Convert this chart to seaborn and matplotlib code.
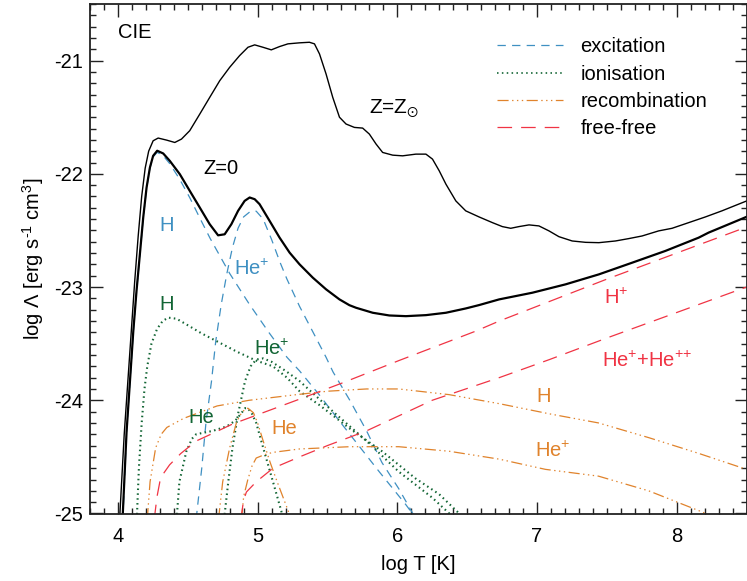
import matplotlib
matplotlib.use("Agg")
import numpy as np
import matplotlib.pyplot as plt
import seaborn as sns
from matplotlib.ticker import FixedLocator, FuncFormatter
from matplotlib.lines import Line2D

plt.rcParams['font.family'] = ['Liberation Sans', 'DejaVu Sans']
plt.rcParams['mathtext.fontset'] = 'custom'
plt.rcParams['mathtext.rm'] = 'Liberation Sans'
plt.rcParams['mathtext.default'] = 'regular'
plt.rcParams['axes.unicode_minus'] = False
plt.rcParams['lines.scale_dashes'] = False

# ---------------- data (log T, log Lambda) ----------------
z0_x = [4.033, 4.062, 4.086, 4.11, 4.133, 4.157, 4.181, 4.205, 4.229, 4.252, 4.281, 4.324, 4.371, 4.443,
        4.514, 4.586, 4.657, 4.717, 4.764, 4.812, 4.86, 4.907, 4.943, 4.979, 5.014, 5.086, 5.157, 5.229,
        5.3, 5.395, 5.49, 5.586, 5.657, 5.705, 5.824, 5.943, 6.062, 6.205, 6.348, 6.49, 6.586, 6.729,
        6.967, 7.205, 7.443, 7.681, 7.919, 8.157, 8.229, 8.5]
z0_y = [-25.05, -24.274, -23.832, -23.389, -23.035, -22.711, -22.386, -22.121, -21.944, -21.841, -21.796,
        -21.82, -21.885, -22.003, -22.15, -22.298, -22.445, -22.543, -22.534, -22.445, -22.327, -22.239,
        -22.209, -22.224, -22.268, -22.416, -22.563, -22.696, -22.799, -22.917, -23.02, -23.109, -23.16,
        -23.183, -23.227, -23.251, -23.257, -23.248, -23.227, -23.189, -23.159, -23.109, -23.05, -22.976,
        -22.888, -22.785, -22.681, -22.564, -22.519, -22.38]

zsun_x = [4.012, 4.045, 4.07, 4.095, 4.12, 4.145, 4.17, 4.195, 4.22, 4.252, 4.288, 4.348, 4.407, 4.455,
          4.514, 4.586, 4.657, 4.729, 4.8, 4.871, 4.931, 4.979, 5.038, 5.098, 5.157, 5.217, 5.3, 5.371,
          5.407, 5.443, 5.49, 5.538, 5.586, 5.633, 5.693, 5.752, 5.8, 5.848, 5.895, 5.967, 6.038, 6.133,
          6.205, 6.252, 6.3, 6.348, 6.419, 6.49, 6.586, 6.681, 6.752, 6.812, 6.871, 6.943, 7.014, 7.086,
          7.157, 7.252, 7.348, 7.443, 7.562, 7.657, 7.752, 7.871, 7.967, 8.086, 8.205, 8.324, 8.443, 8.5]
zsun_y = [-25.05, -24.3, -23.85, -23.4, -22.95, -22.55, -22.2, -21.95, -21.8, -21.708, -21.684, -21.702,
          -21.723, -21.693, -21.619, -21.472, -21.325, -21.177, -21.059, -20.956, -20.882, -20.861,
          -20.882, -20.905, -20.876, -20.852, -20.843, -20.838, -20.852, -20.941, -21.118, -21.325,
          -21.5, -21.56, -21.59, -21.596, -21.649, -21.737, -21.811, -21.835, -21.841, -21.826, -21.826,
          -21.87, -21.973, -22.091, -22.239, -22.327, -22.381, -22.431, -22.466, -22.481, -22.466,
          -22.451, -22.46, -22.504, -22.555, -22.593, -22.605, -22.608, -22.593, -22.572, -22.549,
          -22.504, -22.481, -22.431, -22.381, -22.327, -22.268, -22.24]

exc_h_x = [4.035, 4.062, 4.086, 4.11, 4.133, 4.157, 4.181, 4.205, 4.229, 4.252, 4.281, 4.324, 4.371,
           4.443, 4.514, 4.586, 4.66, 4.8, 4.94, 5.08, 5.21, 5.3, 5.44, 5.59, 5.73, 5.87, 6.06, 6.12]
exc_h_y = [-25.05, -24.28, -23.84, -23.4, -23.04, -22.72, -22.39, -22.13, -21.95, -21.85, -21.81,
           -21.84, -21.91, -22.05, -22.21, -22.39, -22.57, -22.88, -23.15, -23.4, -23.62, -23.74,
           -23.95, -24.19, -24.41, -24.63, -24.92, -25.02]

exc_hep_x = [4.56, 4.60, 4.63, 4.67, 4.70, 4.74, 4.78, 4.82, 4.86, 4.9, 4.95, 4.99, 5.04, 5.1, 5.16,
             5.21, 5.3, 5.41, 5.49, 5.54, 5.66, 5.78, 5.89, 6.01, 6.12]
exc_hep_y = [-25.05, -24.6, -24.2, -23.83, -23.48, -23.15, -22.88, -22.65, -22.48, -22.38, -22.33,
             -22.33, -22.4, -22.58, -22.78, -22.93, -23.17, -23.43, -23.62, -23.75, -24.0, -24.27,
             -24.55, -24.78, -25.02]

ion_h_x = [4.135, 4.15, 4.17, 4.19, 4.21, 4.24, 4.28, 4.32, 4.36, 4.42, 4.49, 4.6, 4.71, 4.85, 4.99,
           5.11, 5.21, 5.3, 5.44, 5.66, 5.89, 6.13, 6.3, 6.46]
ion_h_y = [-25.05, -24.6, -24.2, -23.9, -23.7, -23.5, -23.37, -23.3, -23.27, -23.28, -23.33, -23.41,
           -23.48, -23.57, -23.65, -23.7, -23.8, -23.92, -24.04, -24.25, -24.45, -24.69, -24.83, -25.02]

ion_he_x = [4.42, 4.44, 4.49, 4.53, 4.56, 4.68, 4.78, 4.84, 4.88, 4.91, 4.93, 4.96, 4.99, 5.04, 5.11,
            5.17, 5.18]
ion_he_y = [-25.05, -24.72, -24.45, -24.34, -24.3, -24.27, -24.23, -24.18, -24.12, -24.07, -24.07,
            -24.12, -24.2, -24.42, -24.72, -24.98, -25.05]

ion_hep_x = [4.76, 4.79, 4.82, 4.86, 4.91, 4.95, 4.99, 5.04, 5.1, 5.2, 5.3, 5.54, 5.78, 6.01, 6.25, 6.39]
ion_hep_y = [-25.05, -24.72, -24.42, -24.12, -23.83, -23.7, -23.64, -23.63, -23.66, -23.74, -23.83,
             -24.1, -24.36, -24.63, -24.86, -25.02]

rec_h_x = [4.21, 4.23, 4.27, 4.31, 4.35, 4.47, 4.6, 4.71, 4.94, 5.28, 5.5, 5.78, 6.01, 6.37, 6.73,
           7.09, 7.44, 7.8, 8.16, 8.5]
rec_h_y = [-25.05, -24.72, -24.42, -24.3, -24.24, -24.16, -24.1, -24.05, -24.0, -23.95, -23.92,
           -23.9, -23.9, -23.95, -24.03, -24.12, -24.2, -24.33, -24.47, -24.61]

rec_he_x = [4.72, 4.75, 4.8, 4.85, 4.89, 4.93, 4.97, 5.0, 5.04, 5.09, 5.14, 5.22, 5.23]
rec_he_y = [-25.05, -24.72, -24.42, -24.19, -24.1, -24.07, -24.11, -24.2, -24.36, -24.55, -24.72,
            -24.98, -25.05]

rec_hep_x = [4.885, 4.9, 4.93, 4.96, 4.99, 5.05, 5.11, 5.3, 5.66, 6.01, 6.37, 6.73, 7.06, 7.44, 7.8,
             8.21, 8.25]
rec_hep_y = [-25.05, -24.85, -24.7, -24.58, -24.51, -24.48, -24.46, -24.43, -24.41, -24.41, -24.45,
             -24.52, -24.61, -24.67, -24.8, -25.0, -25.05]

ff_h_x = [4.26, 4.28, 4.3, 4.33, 4.37, 4.45, 4.56, 4.7, 4.82, 5.06, 5.3, 5.6, 6.01, 6.56, 6.73, 7.5, 8.5]
ff_h_y = [-25.05, -24.85, -24.72, -24.64, -24.57, -24.47, -24.36, -24.28, -24.21, -24.1, -23.99,
          -23.85, -23.65, -23.39, -23.3, -22.93, -22.47]

ff_he_x = [4.88, 4.9, 4.92, 4.99, 5.11, 5.3, 5.5, 5.78, 6.25, 6.73, 7.09, 7.5, 8.5]
ff_he_y = [-25.05, -24.88, -24.81, -24.72, -24.6, -24.5, -24.4, -24.27, -24.0, -23.8, -23.64, -23.45,
           -23.0]

legend_labels = ["excitation", "ionisation", "recombination", "free-free"]
x_major = [4, 5, 6, 7, 8]
y_major = [-25, -24, -23, -22, -21]

# ---------------- styling ----------------
C_EXC = "#3f90c2"
C_ION = "#126534"
C_REC = "#e0832c"
C_FF = "#f03444"
LS_EXC = (0, (6.0, 4.5))
LS_ION = (0, (1.1, 2.4))
LS_REC = (0, (8.0, 2.5, 1.0, 2.5, 1.0, 2.5, 1.0, 2.5))
LS_FF = (0, (10.5, 6.5))

fig = plt.figure(figsize=(7.47, 5.81), dpi=100)
ax = fig.add_axes([90 / 747, 67.5 / 581, 656.5 / 747, 509.5 / 581])


def draw(x, y, color, ls, lw):
    sns.lineplot(x=x, y=y, ax=ax, color=color, linestyle=ls, linewidth=lw, sort=False,
                 estimator=None, legend=False)


draw(exc_h_x, exc_h_y, C_EXC, LS_EXC, 0.9)
draw(exc_hep_x, exc_hep_y, C_EXC, LS_EXC, 0.9)
draw(ion_h_x, ion_h_y, C_ION, LS_ION, 1.5)
draw(ion_he_x, ion_he_y, C_ION, LS_ION, 1.5)
draw(ion_hep_x, ion_hep_y, C_ION, LS_ION, 1.5)
draw(rec_h_x, rec_h_y, C_REC, LS_REC, 0.9)
draw(rec_he_x, rec_he_y, C_REC, LS_REC, 0.9)
draw(rec_hep_x, rec_hep_y, C_REC, LS_REC, 0.9)
draw(ff_h_x, ff_h_y, C_FF, LS_FF, 0.9)
draw(ff_he_x, ff_he_y, C_FF, LS_FF, 0.9)
draw(zsun_x, zsun_y, "black", "-", 1.0)
draw(z0_x, z0_y, "black", "-", 1.6)

handles = [Line2D([], [], color=C_EXC, linestyle=LS_EXC, linewidth=0.9),
           Line2D([], [], color=C_ION, linestyle=LS_ION, linewidth=1.2),
           Line2D([], [], color=C_REC, linestyle=LS_REC, linewidth=0.9),
           Line2D([], [], color=C_FF, linestyle=LS_FF, linewidth=0.9)]
ax.legend(handles, legend_labels, loc="upper left", bbox_to_anchor=(0.62, 0.935), frameon=False,
          fontsize=14.5, handlelength=3.3, handletextpad=0.85, labelspacing=0.42, borderpad=0,
          borderaxespad=0)

ax.set_xlabel("log T [K]", fontsize=14.5, labelpad=6)
ax.set_ylabel(r"log Λ [erg s$^{\text{-1}}$ cm$^{3}$]", fontsize=14.5, labelpad=6)

fs = 14.5
ax.text(4.12, -20.75, "CIE", fontsize=fs, ha="center", va="center")
ax.text(4.74, -21.95, "Z=0", fontsize=fs, ha="center", va="center")
ax.text(5.98, -21.42, r"Z=Z$_{\odot}$", fontsize=fs + 0.5, ha="center", va="center")
ax.text(4.35, -22.46, "H", fontsize=fs, color=C_EXC, ha="center", va="center")
ax.text(4.96, -22.84, "He$^{+}$", fontsize=fs, color=C_EXC, ha="center", va="center")
ax.text(4.35, -23.15, "H", fontsize=fs, color=C_ION, ha="center", va="center")
ax.text(5.1, -23.55, "He$^{+}$", fontsize=fs, color=C_ION, ha="center", va="center")
ax.text(4.6, -24.15, "He", fontsize=fs, color=C_ION, ha="center", va="center")
ax.text(5.19, -24.25, "He", fontsize=fs, color=C_REC, ha="center", va="center")
ax.text(7.57, -23.1, "H$^{+}$", fontsize=fs, color=C_FF, ha="center", va="center")
ax.text(7.79, -23.65, "He$^{+}$+He$^{{+}{+}}$", fontsize=fs, color=C_FF, ha="center", va="center")
ax.text(7.05, -23.97, "H", fontsize=fs, color=C_REC, ha="center", va="center")
ax.text(7.11, -24.45, "He$^{+}$", fontsize=fs, color=C_REC, ha="center", va="center")

# ---------------- axes, ticks ----------------
for s in ax.spines.values():
    s.set_linewidth(1.3)
    s.set_color("#222222")
ax.set_xlim(3.8, 8.5)
ax.set_ylim(-25.0, -20.5)

# every 0.1 step carries a tick; only the integer ones get a label and a long tick
x_all = np.round(np.arange(3.8, 8.51, 0.1), 3)
y_all = np.round(np.arange(-25.0, -20.49, 0.1), 3)
ax.xaxis.set_major_locator(FixedLocator(x_all))
ax.yaxis.set_major_locator(FixedLocator(y_all))


def int_label(labels):
    def fmt(v, pos):
        r = int(round(v))
        return str(r) if (abs(v - r) < 1e-6 and r in labels) else ""
    return fmt


ax.xaxis.set_major_formatter(FuncFormatter(int_label(x_major)))
ax.yaxis.set_major_formatter(FuncFormatter(int_label(y_major)))
ax.tick_params(which="both", direction="in", bottom=True, left=True, top=True, right=True,
               width=1.0, color="#222222", length=4.5, labelsize=14.5, pad=5)
ax.tick_params(axis="x", which="major", pad=10)

fig.canvas.draw()
for axis, majors in ((ax.xaxis, x_major), (ax.yaxis, y_major)):
    for tick in axis.get_major_ticks():
        loc = tick.get_loc()
        if loc is not None and abs(loc - round(loc)) < 1e-6:
            tick.tick1line.set_markersize(9)
            tick.tick2line.set_markersize(9)

fig.savefig("out.png", dpi=100)
